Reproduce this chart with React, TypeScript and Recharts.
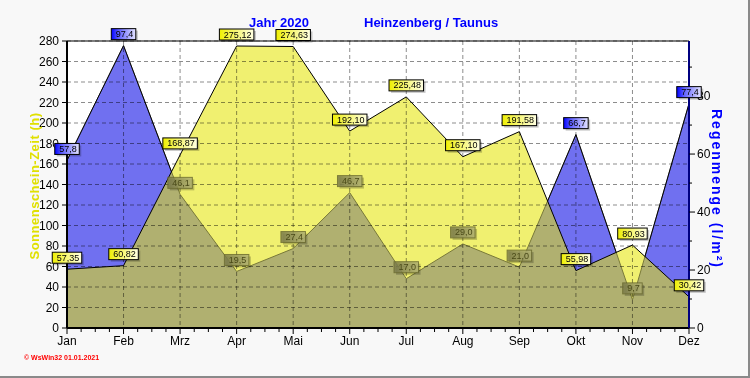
import {
  Area,
  CartesianGrid,
  ComposedChart,
  LabelList,
  Line,
  ReferenceLine,
  XAxis,
  YAxis,
} from "recharts";

const months = ["Jan", "Feb", "Mrz", "Apr", "Mai", "Jun", "Jul", "Aug", "Sep", "Okt", "Nov", "Dez"];
// Sonnenschein-Zeit (h)
const sunHours = [57.35, 60.82, 168.87, 275.12, 274.63, 192.1, 225.48, 167.1, 191.58, 55.98, 80.93, 30.42];
// Regenmenge (l/m²)
const rainfall = [57.8, 97.4, 46.1, 19.5, 27.4, 46.7, 17.0, 29.0, 21.0, 66.7, 9.7, 77.4];
const sunTicks = [0, 20, 40, 60, 80, 100, 120, 140, 160, 180, 200, 220, 240, 260, 280];
const rainTicks = [0, 10, 20, 30, 40, 50, 60, 70, 80, 90];

const SUN_MAX = 280;
const RAIN_MAX = 99;

const CHART_W = 750;
const CHART_H = 378;
const MARGIN = { top: 41, right: 21, bottom: 20, left: 27 };
const AXIS_W = 40;
const PLOT_W = CHART_W - MARGIN.left - MARGIN.right - 2 * AXIS_W;
const STEP = PLOT_W / (months.length - 1);

const data = months.map((month, i) => ({
  month,
  sun: sunHours[i],
  rain: rainfall[i],
}));

// rain drawn above the sunshine area at this month -> blue tag, else olive
const rainOnTop = months.map((_, i) => rainfall[i] / RAIN_MAX > sunHours[i] / SUN_MAX);

const fmt = (v: number, digits: number) => v.toFixed(digits).replace(".", ",");

function tagWidth(text: string) {
  let w = 0;
  for (const ch of text) w += ch === "," ? 2.5 : 5;
  return w + 7;
}

function ValueTag({ x, y, text, kind }: { x: number; y: number; text: string; kind: "sun" | "rain" | "olive" }) {
  const w = tagWidth(text);
  const h = 11;
  const left = x - w / 2;
  const top = y - 17;
  const border = kind === "olive" ? "#6a6a30" : "#000";
  const color = kind === "olive" ? "#4a4a18" : "#000";
  return (
    <g>
      <rect x={left + 2} y={top + 2} width={w} height={h} fill="#000" opacity={0.22} />
      <rect
        x={left}
        y={top}
        width={w}
        height={h}
        fill={`url(#tag-${kind})`}
        stroke={border}
        strokeWidth={1}
        opacity={kind === "olive" ? 0.85 : 1}
      />
      <text x={x + 1} y={top + 8.5} textAnchor="middle" fontSize={9} fill={color}>
        {text}
      </text>
    </g>
  );
}

function SunTag(props: any) {
  const { x, y, value } = props;
  if (x == null || y == null) return null;
  return <ValueTag x={Number(x)} y={Number(y)} text={fmt(Number(value), 2)} kind="sun" />;
}

function RainTag(props: any) {
  const { x, y, value } = props;
  if (x == null || y == null) return null;
  const idx = props.index ?? rainfall.indexOf(Number(value));
  const kind = rainOnTop[idx] ? "rain" : "olive";
  return <ValueTag x={Number(x)} y={Number(y)} text={fmt(Number(value), 1)} kind={kind} />;
}

function MonthTick(props: any) {
  const { x, y, payload, index } = props;
  const axisY = y - 8;
  const minor = index < months.length - 1 ? [1, 2, 3].map((k) => x + (k * STEP) / 4) : [];
  return (
    <g>
      <line x1={x} x2={x} y1={axisY} y2={axisY + 6} stroke="#000" />
      {minor.map((mx) => (
        <line key={mx} x1={mx} x2={mx} y1={axisY + 1} y2={axisY + 4} stroke="#000" />
      ))}
      <text x={x} y={axisY + 17} textAnchor="middle" fontSize={12} fill="#000">
        {payload.value}
      </text>
    </g>
  );
}

function RainTick(props: any) {
  const { x, y, payload } = props;
  const axisX = x - 8;
  const major = payload.value % 20 === 0;
  return (
    <g>
      <line x1={axisX} x2={axisX + (major ? 6 : 3)} y1={y} y2={y} stroke="#000" />
      {major && (
        <text x={x} y={y + 4} textAnchor="start" fontSize={12} fill="#000">
          {payload.value}
        </text>
      )}
    </g>
  );
}

export default function App() {
  return (
    <div
      style={{
        position: "absolute",
        top: 0,
        left: 0,
        width: CHART_W,
        height: CHART_H,
        background: "#f8f8f8",
        fontFamily: "'Liberation Sans', Arial, sans-serif",
      }}
    >
      <style>{"body{margin:0} .rain-mix{mix-blend-mode:multiply}"}</style>
      <svg width={0} height={0} style={{ position: "absolute" }}>
        <defs>
          <linearGradient id="tag-sun" x1="0" y1="0" x2="1" y2="0">
            <stop offset="0" stopColor="#f0f000" />
            <stop offset="0.3" stopColor="#f4f450" />
            <stop offset="1" stopColor="#ffffe4" />
          </linearGradient>
          <linearGradient id="tag-rain" x1="0" y1="0" x2="1" y2="0">
            <stop offset="0" stopColor="#0000ff" />
            <stop offset="0.3" stopColor="#6060ff" />
            <stop offset="1" stopColor="#e4e4ff" />
          </linearGradient>
          <linearGradient id="tag-olive" x1="0" y1="0" x2="1" y2="0">
            <stop offset="0" stopColor="#787848" />
            <stop offset="1" stopColor="#b4b474" />
          </linearGradient>
        </defs>
      </svg>

      <ComposedChart width={CHART_W} height={CHART_H} data={data} margin={MARGIN}>
        <CartesianGrid yAxisId="left" horizontal={false} vertical={false} fill="#fff" />
        <XAxis
          dataKey="month"
          scale="point"
          interval={0}
          height={30}
          tickSize={6}
          tickMargin={2}
          tickLine={false}
          axisLine={{ stroke: "#000", strokeWidth: 2 }}
          tick={<MonthTick />}
        />
        <YAxis
          yAxisId="left"
          domain={[0, SUN_MAX]}
          ticks={sunTicks}
          interval={0}
          width={AXIS_W}
          tickSize={5}
          tickMargin={3}
          tick={{ fill: "#000", fontSize: 12 }}
          tickLine={{ stroke: "#000" }}
          axisLine={{ stroke: "#000", strokeWidth: 2 }}
        />
        <YAxis
          yAxisId="right"
          orientation="right"
          domain={[0, RAIN_MAX]}
          ticks={rainTicks}
          interval={0}
          width={AXIS_W}
          tickSize={6}
          tickMargin={2}
          tickLine={false}
          tick={<RainTick />}
          axisLine={{ stroke: "#000080", strokeWidth: 2 }}
        />
        <Area
          yAxisId="right"
          type="linear"
          dataKey="rain"
          fill="#9999f0"
          fillOpacity={1}
          stroke="#000"
          strokeWidth={1}
          isAnimationActive={false}
        />
        <Area
          yAxisId="left"
          type="linear"
          dataKey="sun"
          fill="#f0f070"
          fillOpacity={1}
          stroke="#000"
          strokeWidth={1}
          isAnimationActive={false}
        />
        <Area
          className="rain-mix"
          yAxisId="right"
          type="linear"
          dataKey="rain"
          fill="#bbbbff"
          fillOpacity={1}
          stroke="#808080"
          strokeWidth={1}
          isAnimationActive={false}
        />
        <CartesianGrid
          yAxisId="left"
          stroke="#000"
          strokeOpacity={0.45}
          strokeDasharray="4 3"
          zIndex={150}
        />
        <ReferenceLine yAxisId="left" y={SUN_MAX} stroke="#000" strokeWidth={1} />
        <Line
          yAxisId="right"
          dataKey="rain"
          stroke="none"
          dot={false}
          activeDot={false}
          isAnimationActive={false}
        >
          <LabelList dataKey="rain" content={RainTag} />
        </Line>
        <Line
          yAxisId="left"
          dataKey="sun"
          stroke="none"
          dot={false}
          activeDot={false}
          isAnimationActive={false}
        >
          <LabelList dataKey="sun" content={SunTag} />
        </Line>
      </ComposedChart>

      <svg
        width={CHART_W}
        height={CHART_H}
        style={{ position: "absolute", top: 0, left: 0, pointerEvents: "none" }}
      >
        <text x={249} y={27} fontSize={13} fontWeight="bold" fill="#0000ff">
          Jahr 2020
        </text>
        <text x={364} y={27} fontSize={13} fontWeight="bold" fill="#0000ff">
          Heinzenberg / Taunus
        </text>
        <text
          transform="translate(39 186) rotate(-90)"
          textAnchor="middle"
          fontSize={13}
          fontWeight="bold"
          letterSpacing={0.5}
          fill="#e0e000"
        >
          Sonnenschein-Zeit  (h)
        </text>
        <text
          transform="translate(712 189) rotate(90)"
          textAnchor="middle"
          fontSize={14}
          fontWeight="bold"
          letterSpacing={2}
          fill="#0000ff"
        >
          Regenmenge  (l/m²)
        </text>
        <text x={24} y={360} fontSize={7} fontWeight="bold" fill="#ff0000">
          © WsWin32  01.01.2021
        </text>
      </svg>
      <div
        style={{
          position: "absolute",
          right: 0,
          top: 0,
          bottom: 0,
          width: 2,
          background: "#8a8a8a",
        }}
      />
      <div
        style={{
          position: "absolute",
          left: 0,
          right: 0,
          bottom: 0,
          height: 2,
          background: "#8a8a8a",
        }}
      />
    </div>
  );
}
